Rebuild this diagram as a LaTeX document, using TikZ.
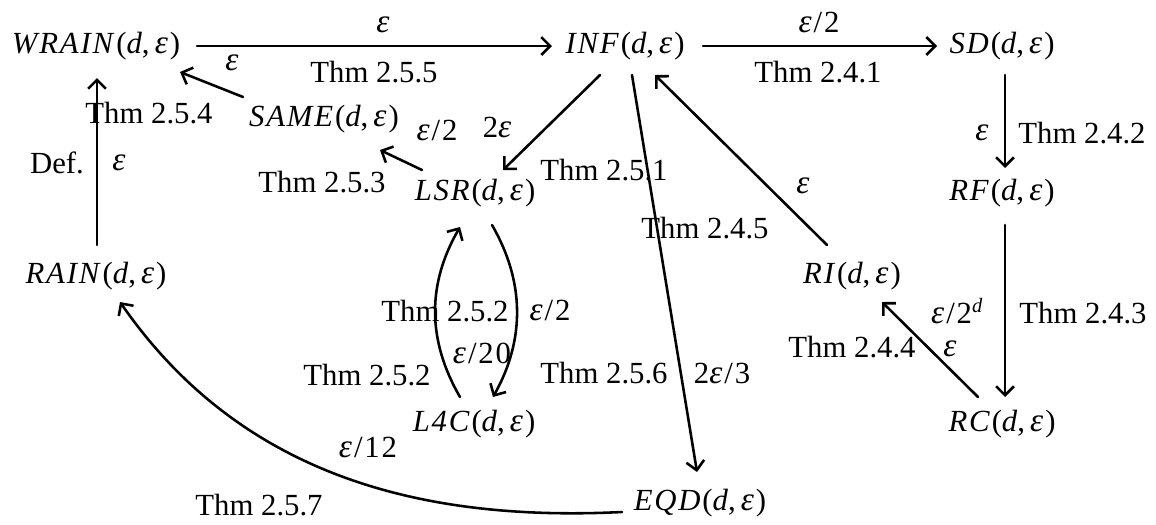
\documentclass[tikz,border=0pt]{standalone}
\usepackage{fontspec}
\setmainfont{Liberation Serif}
\newfontfamily\mfont{Liberation Serif}[LetterSpace=6]
\usetikzlibrary{arrows.meta}
\newcommand{\ee}{\textit{\fontsize{13}{14}\selectfont ε}}
\newcommand{\fnode}[1]{{\mfont\textit{#1}(\textit{d},\,\ee)}}
\newcommand{\mlab}[1]{{\mfont #1}}
\begin{document}
\begin{tikzpicture}[x=0.3906pt,y=-0.3906pt,
  font=\fontsize{12}{14}\selectfont,
  obj/.style={inner sep=0pt},
  lab/.style={inner sep=0pt},
  arr/.style={line width=1pt,line cap=round,-{Straight Barb[length=3.5pt,width=7pt]}}]
\useasboundingbox (0,0) rectangle (1156,524);
% objects
\node[obj] (WRAIN) at (96,46) {\fnode{WRAIN}};
\node[obj] (INF) at (625,46) {\fnode{INF}};
\node[obj] (SD) at (1002,46) {\fnode{SD}};
\node[obj] (SAME) at (324,119) {\fnode{SAME}};
\node[obj] (LSR) at (475,193) {\fnode{LSR}};
\node[obj] (RF) at (1002,193) {\fnode{RF}};
\node[obj] (RAIN) at (96,276) {\fnode{RAIN}};
\node[obj] (RI) at (852,276) {\fnode{RI}};
\node[obj] (L4C) at (474,424) {\fnode{L4C}};
\node[obj] (RC) at (1002,424) {\fnode{RC}};
\node[obj] (EQD) at (700,503) {\fnode{EQD}};
% arrows
\draw[arr] ([shift={(101,0)}]WRAIN.center) -- ([shift={(-73,0)}]INF.center);
\draw[arr] ([shift={(78,0)}]INF.center) -- ([shift={(-65,0)}]SD.center);
\draw[arr] ([shift={(3,29)}]SD.center) -- ([shift={(3,-25)}]RF.center);
\draw[arr] ([shift={(3,32)}]RF.center) -- ([shift={(3,-27)}]RC.center);
\draw[arr] ([shift={(-24,-27)}]RC.center) -- ([shift={(30,26)}]RI.center);
\draw[arr] ([shift={(-25,-31)}]RI.center) -- ([shift={(30,29)}]INF.center);
\draw[arr] ([shift={(7,29)}]INF.center) -- ([shift={(-3,-31)}]EQD.center);
\draw[arr] ([shift={(-25,29)}]INF.center) -- ([shift={(28,-23)}]LSR.center);
\draw[arr] ([shift={(-53,-23)}]LSR.center) -- ([shift={(56,31)}]SAME.center);
\draw[arr] ([shift={(-81,-22)}]SAME.center) -- ([shift={(84,26)}]WRAIN.center);
\draw[arr] ([shift={(1,-31)}]RAIN.center) -- ([shift={(1,32)}]WRAIN.center);
\draw[arr] ([shift={(-14,-27)}]L4C.center) .. controls (427,340) and (427,284) .. ([shift={(-15,34)}]LSR.center);
\draw[arr] ([shift={(17,32)}]LSR.center) .. controls (525,282) and (525,340) .. ([shift={(19,-27)}]L4C.center);
\draw[arr] ([shift={(-78,9)}]EQD.center) .. controls (420,522) and (240,475) .. ([shift={(24,26)}]RAIN.center);
% labels
\node[lab] (l1a) at (383,25) {\ee};
\node[lab] (l1b) at (374,72) {Thm 2.5.5};
\node[lab] (l2a) at (819,22) {\mlab{\ee/2}};
\node[lab] (l2b) at (818,72) {Thm 2.4.1};
\node[lab] (l3a) at (982,133) {\ee};
\node[lab] (l3b) at (1082,133) {Thm 2.4.2};
\node[lab] (l4a) at (958,311) {\mlab{\ee/2\textsuperscript{\textit{d}}}};
\node[lab] (l4b) at (1083,313) {Thm 2.4.3};
\node[lab] (l5a) at (852,347) {Thm 2.4.4};
\node[lab] (l5b) at (950,349) {\ee};
\node[lab] (l6a) at (803,186) {\ee};
\node[lab] (l6b) at (705,228) {Thm 2.4.5};
\node[lab] (l7a) at (604,373) {Thm 2.5.6};
\node[lab] (l7b) at (722,373) {\mlab{2\ee/3}};
\node[lab] (l8a) at (498,127) {\mlab{2\ee}};
\node[lab] (l8b) at (604,170) {Thm 2.5.1};
\node[lab] (l9a) at (437,130) {\mlab{\ee/2}};
\node[lab] (l9b) at (322,182) {Thm 2.5.3};
\node[lab] (l10a) at (232,63) {\ee};
\node[lab] (l10b) at (149,113) {Thm 2.5.4};
\node[lab] (l11a) at (57,163) {Def.};
\node[lab] (l11b) at (119,163) {\ee};
\node[lab] (l12a) at (445,311) {Thm 2.5.2};
\node[lab] (l12b) at (367,375) {Thm 2.5.2};
\node[lab] (l12c) at (482,353) {\mlab{\ee/20}};
\node[lab] (l13a) at (550,310) {\mlab{\ee/2}};
\node[lab] (l14a) at (368,447) {\mlab{\ee/12}};
\node[lab] (l14b) at (259,505) {Thm 2.5.7};
\end{tikzpicture}
\end{document}
